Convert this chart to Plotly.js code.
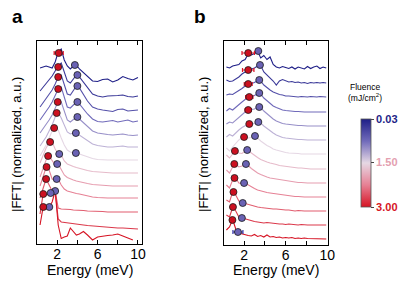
<!DOCTYPE html>
<html><head><meta charset="utf-8">
<script src="https://cdn.plot.ly/plotly-3.0.1.min.js"></script>
<style>html,body{margin:0;padding:0;background:#fff}#chart{width:415px;height:283px}</style>
</head><body><div id="chart"></div>
<script>
// ---------- data ----------
const fluence = [0.03,0.28,0.52,0.77,1.02,1.26,1.51,1.76,2.01,2.25,2.50,2.75,3.00];

// Panel a
const energyA = [0.3,0.6,0.9,1.2,1.5,1.8,2.1,2.4,2.7,3.0,3.3,3.6,3.9,4.2,4.6,5.0,5.5,6.0,6.5,7.0,7.5,8.0,8.5,9.0,9.5,10.0];
const offsetA = [16.6,14.7,13.3,12.1,10.9,9.7,8.4,7.1,5.8,4.6,3.2,1.5,0.4];
const fftA = [
 [1.0,1.1,1.2,1.1,1.0,1.6,2.6,2.9,1.8,1.2,0.9,1.2,1.3,0.9,0.5,0.1,-0.3,-0.35,-0.15,-0.1,-0.4,-0.2,0.15,-0.05,-0.2,0.05],
 [0.6,0.95,1.3,1.7,2.1,2.6,3.1,3.4,2.4,1.6,1.4,1.8,2.2,2.0,1.5,0.9,0.3,0.1,0.0,0.1,0.1,0.15,0.2,0.05,0.0,0.1],
 [0.4,0.8,1.2,1.6,2.1,2.7,3.4,3.6,2.6,1.7,1.6,2.1,2.5,2.3,1.7,1.0,0.4,0.2,0.1,0.0,-0.05,0.15,0.2,0.0,0.05,0.1],
 [0.3,0.7,1.1,1.6,2.1,2.7,3.4,3.6,2.5,1.6,1.5,1.8,2.1,1.9,1.4,0.9,0.4,0.15,0.1,0.2,0.25,0.1,0.2,0.3,0.1,0.2],
 [0.2,0.6,1.0,1.5,2.0,2.7,3.35,3.3,2.3,1.5,1.3,1.6,1.8,1.6,1.2,0.8,0.4,0.2,0.1,0.05,0.0,0.05,0.1,0.0,-0.05,0.0],
 [0.1,0.5,1.0,1.6,2.2,3.0,3.45,2.9,2.1,1.5,1.3,1.4,1.4,1.2,0.9,0.6,0.3,0.15,0.05,0.0,0.0,0.05,0.1,0.0,0.0,0.0],
 [0.4,0.9,1.5,2.2,2.9,3.3,3.0,2.2,1.5,1.0,0.8,0.7,0.7,0.6,0.45,0.3,0.15,0.05,0.0,0.0,0.0,0.0,0.0,0.0,0.0,0.0],
 [1.0,1.8,2.5,3.0,3.1,2.4,1.9,1.8,1.2,0.9,0.75,0.65,0.55,0.45,0.35,0.25,0.15,0.1,0.05,0.0,0.0,0.0,0.0,0.0,0.0,0.0],
 [0.9,1.8,2.6,3.0,2.5,2.1,2.2,1.6,1.1,0.85,0.7,0.6,0.5,0.45,0.35,0.25,0.15,0.1,0.05,0.0,0.0,0.0,0.0,0.0,0.0,0.0],
 [1.2,2.2,3.05,2.8,1.9,1.8,1.9,1.3,0.9,0.7,0.6,0.5,0.45,0.4,0.3,0.2,0.1,0.05,0.0,0.0,0.0,0.0,0.0,0.0,0.0,0.0],
 [1.4,2.4,3.3,2.7,2.1,2.1,0.4,0.3,0.3,0.25,0.25,0.2,0.2,0.15,0.15,0.1,0.1,0.05,0.05,0.0,0.0,0.0,0.0,0.0,-0.05,0.0],
 [1.5,3.45,3.4,3.5,3.6,3.8,1.0,0.7,0.65,0.6,0.55,0.5,0.5,0.45,0.4,0.35,0.3,0.25,0.2,0.2,0.15,0.1,0.1,0.05,0.0,0.0],
 [1.5,3.25,3.2,3.3,3.8,4.9,1.5,0.15,0.3,0.4,1.2,0.8,0.5,0.6,0.85,0.5,0.0,0.3,0.4,0.45,0.5,0.6,0.4,0.2,0.0,null]
];
const lowModeA_E   = [2.15,2.1,2.1,2.1,2.05,1.95,1.7,1.3,1.1,0.95,0.9,0.62,0.62];
const lowModeA_Y   = [2.5,3.0,3.4,3.4,3.3,3.4,3.2,3.1,3.0,3.1,3.3,3.5,3.3];
const lowModeA_Err = [0.45,0,0,0,0,0,0,0,0,0,0,0,0];
const highModeA_E  = [3.75,4.0,4.0,4.0,4.0,3.85,3.85,2.2,2.0,1.95,1.8,1.35,1.22];
const highModeA_Y  = [1.3,2.2,2.5,2.1,1.8,1.4,0.7,1.9,2.2,1.9,2.1,3.6,3.3];

// Panel b
const energyB = [0.3,0.6,0.9,1.2,1.5,1.8,2.1,2.4,2.7,3.0,3.3,3.6,3.9,4.2,4.5,4.8,5.1,5.4,5.7,6.0,6.3,6.6,6.9,7.2,7.5,7.8,8.1,8.4,8.7,9.0,9.3,9.6,9.9];
const offsetB = [17.7,16.2,14.8,13.3,11.9,10.5,9.1,7.6,6.2,4.8,3.4,2.0,0.6];
const fftB = [
 [0.1,0.0,0.2,0.3,0.35,0.7,0.85,1.4,1.3,1.45,1.7,1.0,1.25,0.85,1.1,0.35,0.1,0.0,0.15,0.05,-0.05,0.1,-0.1,0.1,0.0,-0.1,0.15,-0.05,0.1,0.2,-0.05,0.1,0.0],
 [0.3,0.15,0.2,0.4,0.6,0.9,1.1,1.3,1.4,1.5,1.7,1.75,1.1,0.8,0.55,0.2,-0.2,0.2,0.35,0.2,0.1,0.15,0.05,0.1,0.0,0.05,-0.05,0.05,0.0,0.05,0.0,0.05,0.0],
 [0.2,0.3,0.25,0.45,0.6,0.85,1.1,1.3,1.35,1.45,1.65,1.6,1.2,0.9,0.7,0.5,0.35,0.25,0.2,0.1,0.1,0.05,0.05,0.0,0.05,0.0,0.0,0.05,0.0,0.0,0.05,0.0,0.0],
 [0.1,0.35,0.2,0.5,0.75,1.0,1.25,1.45,1.55,1.65,1.85,1.8,1.4,1.1,0.85,0.6,0.45,0.3,0.2,0.15,0.1,0.1,0.05,0.05,0.0,0.0,0.0,0.0,0.0,0.0,0.0,0.0,0.0],
 [0.2,0.4,0.3,0.6,0.85,1.1,1.4,1.6,1.65,1.7,1.9,1.85,1.5,1.2,0.95,0.7,0.5,0.35,0.25,0.2,0.15,0.1,0.05,0.05,0.05,0.0,0.0,0.0,0.0,0.0,0.0,0.0,0.0],
 [0.3,0.55,0.4,0.75,1.0,1.25,1.45,1.6,1.6,1.65,1.8,1.7,1.4,1.15,0.9,0.7,0.5,0.35,0.25,0.2,0.15,0.1,0.1,0.05,0.05,0.0,0.0,0.0,0.0,0.0,0.0,0.0,0.0],
 [0.6,0.3,0.7,1.1,1.4,1.65,1.7,1.6,1.65,1.8,1.6,1.3,1.05,0.85,0.7,0.5,0.4,0.3,0.2,0.15,0.1,0.1,0.05,0.05,0.0,0.0,0.0,0.0,0.0,0.0,0.0,0.0,0.0],
 [1.4,1.1,1.5,1.8,1.6,1.55,1.8,1.9,1.6,1.35,1.15,0.95,0.8,0.7,0.6,0.55,0.45,0.35,0.3,0.25,0.2,0.15,0.15,0.1,0.1,0.05,0.05,0.0,0.0,0.0,0.0,0.0,0.0],
 [1.3,1.0,1.6,1.9,1.6,1.7,1.9,1.75,1.45,1.2,1.0,0.85,0.7,0.6,0.5,0.45,0.35,0.3,0.25,0.2,0.15,0.1,0.1,0.05,0.05,0.0,0.0,0.0,0.0,0.0,0.0,0.0,0.0],
 [1.2,0.9,1.7,1.85,1.4,1.35,1.4,1.2,1.0,0.85,0.7,0.6,0.5,0.45,0.4,0.35,0.3,0.25,0.2,0.15,0.1,0.1,0.05,0.05,0.0,0.0,0.0,0.0,0.0,0.0,0.0,0.0,0.0],
 [1.1,0.9,1.9,1.6,1.0,0.8,0.75,0.65,0.55,0.45,0.4,0.35,0.3,0.25,0.25,0.2,0.2,0.15,0.15,0.1,0.1,0.05,0.0,0.05,0.0,0.0,0.0,0.0,0.0,0.0,0.0,0.0,0.0],
 [1.0,0.8,1.75,1.4,0.8,0.7,0.6,0.5,0.4,0.35,0.3,0.25,0.2,0.25,0.2,0.15,0.15,0.1,0.1,0.05,0.1,0.05,0.05,0.0,0.05,0.0,0.0,0.0,0.0,0.0,0.0,0.0,0.0],
 [0.9,1.2,1.95,1.0,0.6,0.5,0.4,0.35,0.3,0.45,0.25,0.35,0.2,0.4,0.2,0.25,0.15,0.2,0.1,0.15,0.1,0.15,0.05,0.1,0.05,0.1,0.05,0.05,0.0,0.05,0.0,0.05,0.0]
];
const lowModeB_E   = [2.4,2.4,2.4,2.5,2.4,2.5,2.0,1.12,1.06,1.08,0.98,0.93,0.88];
const lowModeB_Y   = [1.5,1.3,1.3,1.5,1.6,1.6,1.7,1.8,1.9,1.9,1.9,1.8,1.9];
const lowModeB_Err = [0.6,0.55,0.38,0.35,0.3,0,0,0,0,0,0,0,0];
const highModeB_E  = [3.37,3.53,3.46,3.46,3.46,3.37,3.05,2.3,2.18,2.0,1.87,1.79,1.41];
const highModeB_Y  = [1.7,1.8,1.7,1.9,1.9,1.8,1.8,1.9,1.9,1.4,0.8,0.7,0.7];
const highModeB_Err= [0,0,0,0,0,0,0,0,0,0,0,0,0.48];

const xTickVals = [2,4,6,8,10];
const xTickText = ['2','','6','','10'];
const fluenceTicks = [0.03,1.50,3.00];

// ---------- styling ----------
const FONT = 'Liberation Sans, Arial, Helvetica, sans-serif';
const stops = [[0,[30,30,135]],[0.25,[112,106,186]],[0.5,[230,216,228]],[0.75,[230,128,148]],[1,[214,20,36]]];
function colorFor(fl){
  const t = Math.max(0,Math.min(1,(fl-0.03)/(3.00-0.03)));
  for(let k=1;k<stops.length;k++){
    if(t<=stops[k][0]){
      const a=stops[k-1], b=stops[k]; const u=(t-a[0])/(b[0]-a[0]);
      const c=a[1].map((v,j)=>Math.round(v+(b[1][j]-v)*u));
      return 'rgb('+c.join(',')+')';
    }
  }
  return 'rgb('+stops[stops.length-1][1].join(',')+')';
}
const cbScale = stops.slice().reverse().map(s=>[1-s[0],'rgb('+s[1].join(',')+')']);

const traces = [];
function addPanel(energy, fft, offset, xa, ya){
  fft.forEach((row,i)=>{
    traces.push({type:'scatter',mode:'lines',x:energy,y:row.map(v=>v===null?null:v+offset[i]),
      xaxis:xa,yaxis:ya,line:{color:colorFor(fluence[i]),width:1.1},hoverinfo:'skip'});
  });
}
function addDots(E,Y,err,offset,xa,ya,fill,errColor){
  traces.push({type:'scatter',mode:'markers',x:E,y:Y.map((v,i)=>v+offset[i]),xaxis:xa,yaxis:ya,
    error_x:{type:'data',array:err,visible:true,color:errColor,thickness:1.2,width:2},
    marker:{size:7,color:fill,line:{color:'#1a1a1a',width:0.8}},cliponaxis:false,hoverinfo:'skip'});
}
addPanel(energyA, fftA, offsetA, 'x', 'y');
addPanel(energyB, fftB, offsetB, 'x2', 'y2');
addDots(highModeA_E, highModeA_Y, highModeA_E.map(()=>0), offsetA, 'x','y', '#6a62b4', '#3434a8');
addDots(lowModeA_E, lowModeA_Y, lowModeA_Err, offsetA, 'x','y', '#cc1020', '#e01428');
addDots(highModeB_E, highModeB_Y, highModeB_Err, offsetB, 'x2','y2', '#6a62b4', '#3434a8');
addDots(lowModeB_E, lowModeB_Y, lowModeB_Err, offsetB, 'x2','y2', '#cc1020', '#e01428');

// colour bar (negated fluence so that the low fluence sits at the top)
const tickColors = [colorFor(0.03), 'rgb(228,160,176)', colorFor(3.00)];
traces.push({type:'scatter',mode:'markers',x:[5,5],y:[-50,-50],xaxis:'x2',yaxis:'y2',hoverinfo:'skip',
  marker:{color:fluence.map(f=>-f),cmin:-3.00,cmax:-0.03,colorscale:cbScale,opacity:0,showscale:true,
    colorbar:{x:361/415,xanchor:'left',xpad:0,y:1-163/283,yanchor:'middle',ypad:0,
      thickness:10,thicknessmode:'pixels',len:88,lenmode:'pixels',
      outlinewidth:0.8,outlinecolor:'#555',
      tickvals:fluenceTicks.map(f=>-f),
      ticktext:fluenceTicks.map((f,i)=>'<span style="color:'+tickColors[i]+'"><b>'+f.toFixed(2)+'</b></span>'),
      ticks:'outside',ticklen:3,tickwidth:1,tickcolor:'#444',
      tickfont:{family:FONT,size:11}}}});

function xAxis(dom, rng, anchor){
  return {domain:dom,range:rng,anchor:anchor,showline:true,linecolor:'#000',linewidth:1,mirror:'ticks',
    ticks:'inside',ticklen:4,tickwidth:1,tickcolor:'#000',tickvals:xTickVals,ticktext:xTickText,
    ticklabelstandoff:-3,
    tickfont:{family:FONT,size:14,color:'#000'},showgrid:false,zeroline:false,fixedrange:true};
}
function yAxis(dom, rng, anchor){
  return {domain:dom,range:rng,anchor:anchor,showline:true,linecolor:'#000',linewidth:1,mirror:true,
    ticks:'',showticklabels:false,showgrid:false,zeroline:false,fixedrange:true};
}
const ann = (text,x,y,size,extra)=>Object.assign({text:text,x:x,y:y,xref:'paper',yref:'paper',showarrow:false,
  xanchor:'center',yanchor:'middle',font:{family:FONT,size:size,color:'#000'}},extra||{});

const layout = {
  width:415,height:283,margin:{l:0,r:0,t:0,b:0},paper_bgcolor:'#fff',plot_bgcolor:'#fff',showlegend:false,
  xaxis:xAxis([37/415,142/415],[0,10.4],'y'),
  yaxis:yAxis([1-244/283,1-41/283],[0,20.3],'x'),
  xaxis2:xAxis([224/415,328/415],[0.07,10.07],'y2'),
  yaxis2:yAxis([1-245/283,1-41/283],[0,20.4],'x2'),
  annotations:[
    ann('<b>a</b>',17/415,1-17/283,19),
    ann('<b>b</b>',200/415,1-17/283,19),
    ann('|FFT| (normalized, a.u.)',16/415,1-145/283,13,{textangle:-90}),
    ann('|FFT| (normalized, a.u.)',203/415,1-145/283,13,{textangle:-90}),
    ann('Energy (meV)',90/415,1-270/283,14),
    ann('Energy (meV)',276/415,1-270/283,14),
    ann('Fluence',365/415,1-87/283,8.5),
    ann('(mJ/cm<sup>2</sup>)',365/415,1-97/283,8.5)
  ]
};
Plotly.newPlot('chart',traces,layout,{staticPlot:true,displayModeBar:false});
</script></body></html>
